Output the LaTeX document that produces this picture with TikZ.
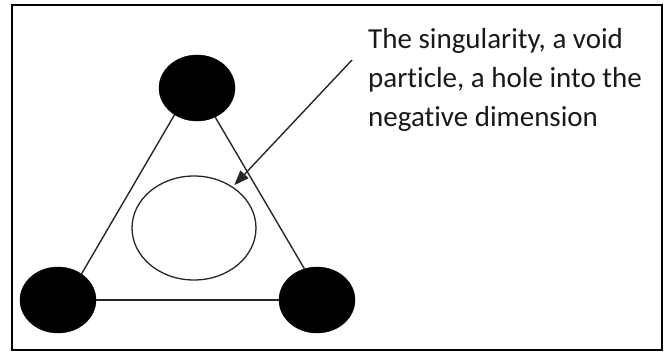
\documentclass[tikz,border=0pt]{standalone}
\usepackage{fontspec}
\setmainfont{Carlito}[Ligatures=CommonOff]
\usetikzlibrary{arrows.meta,shapes.geometric}
\begin{document}
\begin{tikzpicture}[x=1pt,y=-1pt,
  dot/.style={ellipse,fill=black,draw=black,minimum width=76pt,minimum height=66pt,inner sep=0pt},
  edge/.style={draw=black!85,line width=1.4pt},
  hole/.style={ellipse,draw=black!85,line width=1.3pt,minimum width=124pt,minimum height=104pt,inner sep=0pt},
  lbl/.style={font=\fontsize{29pt}{39pt}\selectfont,align=left,inner sep=0pt,text=black!90}]
\useasboundingbox (0,0) rectangle (669,353);
\draw[line width=2.5pt] (12,5) rectangle (662,350);
\node[dot] (t) at (197,88) {};
\node[dot] (bl) at (58,300) {};
\node[dot] (br) at (317,300) {};
\node[hole] (c) at (194,228) {};
\draw[edge] (t.230) -- (bl.48);
\draw[edge] (t.302) -- (br.112);
\draw[edge] (bl) -- (br);
\node[lbl,anchor=base west] (txt) at (368,126) {The singularity, a void\\particle, a hole into the\\negative dimension};
\coordinate (as) at (352,60);
\draw[edge,-{Triangle[length=15pt,width=11pt]},shorten >=2pt] (as) -- (c);
\end{tikzpicture}
\end{document}
